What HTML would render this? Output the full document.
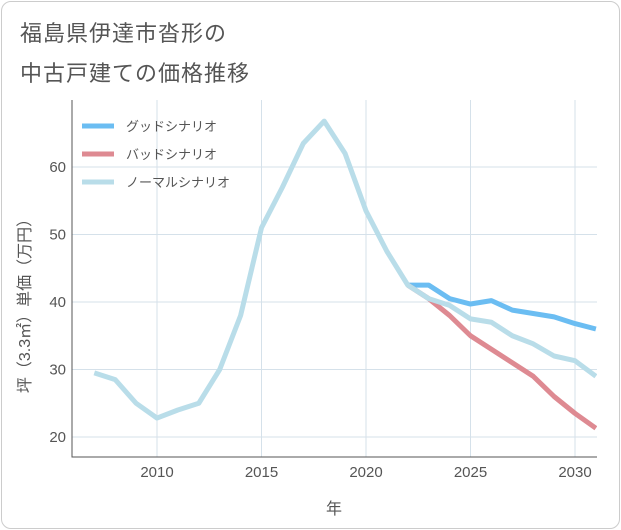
<!DOCTYPE html>
<html><head><meta charset="utf-8"><style>
body{margin:0;background:#fff;font-family:"Liberation Sans","Noto Sans CJK JP",sans-serif}
#card{position:absolute;left:1px;top:1px;width:617px;height:526px;border:1px solid #ccc;border-radius:10px;background:#fff}
.title{position:absolute;left:18px;font-size:22px;color:#555;letter-spacing:1px}
</style></head><body>
<div id="card">
<div class="title" style="top:14px">福島県伊達市沓形の</div>
<div class="title" style="top:54px">中古戸建ての価格推移</div>
</div>
<svg id="chart" width="621" height="530" style="position:absolute;left:0;top:0"></svg>
<script>
const years=[2007,2008,2009,2010,2011,2012,2013,2014,2015,2016,2017,2018,2019,2020,2021,2022,2023,2024,2025,2026,2027,2028,2029,2030,2031];
const normal=[29.5,28.5,25,22.8,24,25,30,38,51,57,63.5,66.8,62,53.5,47.5,42.5,40.5,39.5,37.5,37,35,33.8,32,31.3,29];
const goodYears=[2022,2023,2024,2025,2026,2027,2028,2029,2030,2031];
const good=[42.5,42.5,40.5,39.7,40.2,38.8,38.3,37.8,36.8,36];
const bad=[42.5,40.5,38,35,33,31,29,26,23.5,21.3];
const xTicks=[2010,2015,2020,2025,2030];
const yTicks=[20,30,40,50,60];
const L=72,R=597,T=100,B=457;
const x=v=>157+(v-2010)*20.9;
const y=v=>437-(v-20)*6.75;
const svg=document.getElementById('chart');
const NS='http://www.w3.org/2000/svg';
function mk(t,a){const e=document.createElementNS(NS,t);for(const k in a)e.setAttribute(k,a[k]);svg.appendChild(e);return e;}
const clip=mk('clipPath',{id:'pc'});const cr=document.createElementNS(NS,'rect');
cr.setAttribute('x',L);cr.setAttribute('y',T);cr.setAttribute('width',R-L);cr.setAttribute('height',B-T);clip.appendChild(cr);
for(const t of xTicks){const g=mk('line',{x1:x(t),x2:x(t),y1:T,y2:B,stroke:'#d5e1ea'});


const l=mk('text',{x:x(t),y:477,'text-anchor':'middle','font-size':15,fill:'#555'});l.textContent=t;

}
for(const t of yTicks){const g=mk('line',{x1:L,x2:R,y1:y(t),y2:y(t),stroke:'#d5e1ea'});


const l=mk('text',{x:66,y:y(t)+5,'text-anchor':'end','font-size':15,fill:'#555'});l.textContent=t;

}
const ax=mk('polyline',{points:`${L},${T} ${L},${B} ${R},${B}`,fill:'none',stroke:'#555'});


function line(xs,ys,c,n){const p=mk('polyline',{points:xs.map((v,i)=>x(v)+','+y(ys[i])).join(' '),fill:'none',stroke:c,'stroke-width':5,'stroke-linejoin':'round','clip-path':'url(#pc)'});

}
line(goodYears,good,'#6bbdf2','good-scenario-line');
line(goodYears,bad,'#de8a92','bad-scenario-line');
line(years,normal,'#b9dde9','normal-scenario-line');
const leg=[['グッドシナリオ','#6bbdf2'],['バッドシナリオ','#de8a92'],['ノーマルシナリオ','#b9dde9']];
leg.forEach((d,i)=>{const yy=126+i*28;const s=mk('line',{x1:82,x2:114,y1:yy,y2:yy,stroke:d[1],'stroke-width':5});


const t=mk('text',{x:126,y:yy+5,'font-size':13,fill:'#555'});t.textContent=d[0];

});
const xt=mk('text',{x:334,y:514,'text-anchor':'middle','font-size':16,fill:'#555'});xt.textContent='年';


const yt=mk('text',{x:0,y:0,'text-anchor':'middle','font-size':16,fill:'#555',transform:'translate(30,302) rotate(-90)'});yt.textContent='坪（3.3㎡）単価（万円）';


</script>
</body></html>
